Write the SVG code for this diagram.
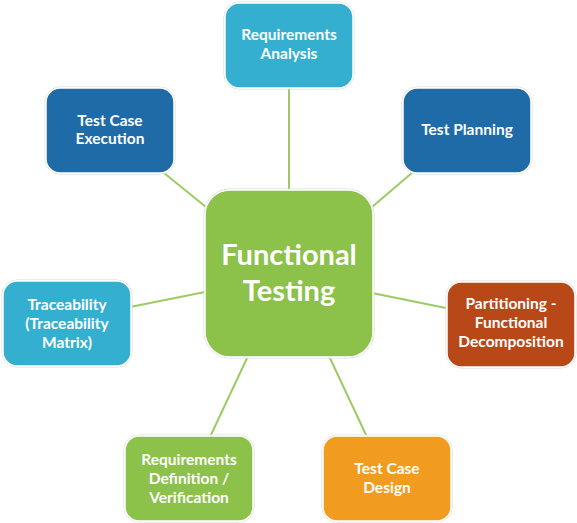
<svg xmlns="http://www.w3.org/2000/svg" width="577" height="523" viewBox="0 0 577 523">
<style>
.box{stroke:#ffffff;stroke-width:1.5}
.edge{fill:none;stroke:#d9d9d9;stroke-width:1}
.t{font-family:Lato,"Open Sans","Liberation Sans",sans-serif;font-weight:bold;font-size:15.5px;fill:#ffffff;text-anchor:middle}
.tc{font-family:Lato,"Open Sans","Liberation Sans",sans-serif;font-weight:bold;font-size:29px;fill:#ffffff;text-anchor:middle}
.lb{fill:#35AFD0}.db{fill:#1E6BA8}.gr{fill:#8CC14A}.rd{fill:#B84818}.or{fill:#F29C1F}
#connectors line{stroke:#9CCB62;stroke-width:2}
</style>
<rect width="577" height="523" fill="#ffffff"/>
<g id="connectors">
<line x1="289" y1="88" x2="289" y2="190"/>
<line x1="413" y1="172" x2="372" y2="207"/>
<line x1="164" y1="173" x2="206" y2="207"/>
<line x1="130" y1="307" x2="205" y2="292"/>
<line x1="446" y1="308" x2="372" y2="293"/>
<line x1="248" y1="356" x2="210" y2="437"/>
<line x1="329" y1="356" x2="367" y2="437"/>
</g>
<g id="center">
<rect x="204" y="189" width="170" height="169" rx="26" class="edge"/>
<rect x="205" y="190" width="168" height="167" rx="25" class="box gr"/>
<text class="tc" x="289" y="265">Functional</text>
<text class="tc" x="289" y="301">Testing</text>
</g>
<g id="req-analysis">
<rect x="224" y="2" width="130" height="87" rx="15" class="edge"/>
<rect x="225" y="3" width="128" height="85" rx="14" class="box lb"/>
<text class="t" x="289" y="40">Requirements</text>
<text class="t" x="289" y="59">Analysis</text>
</g>
<g id="test-planning">
<rect x="402" y="87" width="130" height="87" rx="15" class="edge"/>
<rect x="403" y="88" width="128" height="85" rx="14" class="box db"/>
<text class="t" x="467" y="135">Test Planning</text>
</g>
<g id="test-case-execution">
<rect x="45" y="87" width="130" height="87" rx="15" class="edge"/>
<rect x="46" y="88" width="128" height="85" rx="14" class="box db"/>
<text class="t" x="110" y="126">Test Case</text>
<text class="t" x="110" y="144">Execution</text>
</g>
<g id="traceability">
<rect x="2" y="280" width="130" height="87" rx="15" class="edge"/>
<rect x="3" y="281" width="128" height="85" rx="14" class="box lb"/>
<text class="t" x="67" y="310">Traceability</text>
<text class="t" x="67" y="329">(Traceability</text>
<text class="t" x="67" y="348">Matrix)</text>
</g>
<g id="partitioning">
<rect x="446" y="281" width="130" height="87" rx="15" class="edge"/>
<rect x="447" y="282" width="128" height="85" rx="14" class="box rd"/>
<text class="t" x="511" y="309">Partitioning -</text>
<text class="t" x="511" y="328">Functional</text>
<text class="t" x="511" y="347">Decomposition</text>
</g>
<g id="req-definition">
<rect x="124" y="435" width="130" height="87" rx="15" class="edge"/>
<rect x="125" y="436" width="128" height="85" rx="14" class="box gr"/>
<text class="t" x="189" y="465">Requirements</text>
<text class="t" x="189" y="484">Definition /</text>
<text class="t" x="189" y="503">Verification</text>
</g>
<g id="test-case-design">
<rect x="322" y="435" width="130" height="87" rx="15" class="edge"/>
<rect x="323" y="436" width="128" height="85" rx="14" class="box or"/>
<text class="t" x="387" y="474">Test Case</text>
<text class="t" x="387" y="493">Design</text>
</g>
</svg>
